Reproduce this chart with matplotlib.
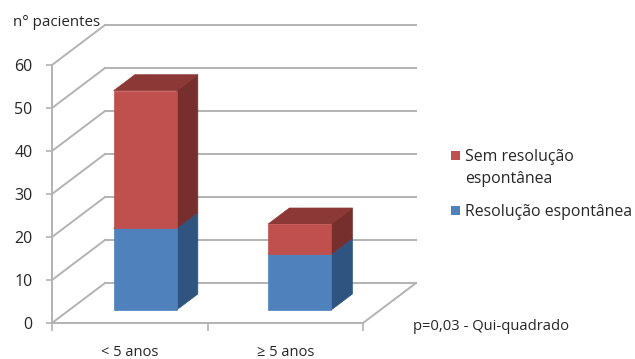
import matplotlib
matplotlib.use('Agg')
import matplotlib.pyplot as plt
from matplotlib.patches import Polygon, Rectangle

plt.rcParams['font.family'] = ['Open Sans', 'DejaVu Sans']

categories = ['< 5 anos', '\u2265 5 anos']
resolved = [19, 13]
unresolved = [32, 7]
y_ticks = [0, 10, 20, 30, 40, 50, 60]
series_names = ['Sem resolu\u00e7\u00e3o\nespont\u00e2nea', 'Resolu\u00e7\u00e3o espont\u00e2nea']

W, H = 635, 359
GRID = '#b3b3b3'
TEXT = '#262626'
BLUE = ('#4f81bd', '#2f5480', '#3a6190')
RED = ('#c0504d', '#772f2d', '#8c3836')

# oblique depth of the 3d box, in data units
DEPTH_X = 0.341
DEPTH_Y = 9.3
BAR_W = 0.405
BAR_NEAR = 0.325
BAR_FAR = 0.725
BAR_CENTERS = [0.488, 1.482]

fig = plt.figure(figsize=(W / 100, H / 100), dpi=100)
ax = fig.add_axes([52 / W, 1 - 323 / H, 311 / W, 258 / H])
ax.set_xlim(0, 2)
ax.set_ylim(0, 60)
ax.patch.set_alpha(0)


def shift(x, y, d):
    return x + DEPTH_X * d, y + DEPTH_Y * d


def poly(pts, color, z):
    ax.add_patch(Polygon(pts, closed=True, fc=color, ec=color, lw=0.5, zorder=z, clip_on=False))


def box(x0, x1, y0, y1, colors, z):
    front, side, top = colors
    poly([shift(x1, y0, BAR_NEAR), shift(x1, y0, BAR_FAR),
          shift(x1, y1, BAR_FAR), shift(x1, y1, BAR_NEAR)], side, z)
    poly([shift(x0, y1, BAR_NEAR), shift(x1, y1, BAR_NEAR),
          shift(x1, y1, BAR_FAR), shift(x0, y1, BAR_FAR)], top, z)
    poly([shift(x0, y0, BAR_NEAR), shift(x1, y0, BAR_NEAR),
          shift(x1, y1, BAR_NEAR), shift(x0, y1, BAR_NEAR)], front, z + 1)


# back wall lines and the diagonals on the side wall
for t in y_ticks:
    bx, by = shift(0, t, 1)
    ax.plot([0, bx], [t, by], color=GRID, lw=1.4, clip_on=False, zorder=1)
    ex, ey = shift(2, t, 1)
    ax.plot([bx, ex], [by, ey], color=GRID, lw=1.4, clip_on=False, zorder=1)
ex, ey = shift(2, 0, 1)
ax.plot([2, ex], [0, ey], color=GRID, lw=1.4, clip_on=False, zorder=1)

for i, c in enumerate(BAR_CENTERS):
    x0 = c - BAR_W / 2
    x1 = c + BAR_W / 2
    box(x0, x1, 0, resolved[i], BLUE, 3)
    box(x0, x1, resolved[i], resolved[i] + unresolved[i], RED, 5)

for s in ['top', 'right']:
    ax.spines[s].set_visible(False)
for s in ['left', 'bottom']:
    ax.spines[s].set_color(GRID)
    ax.spines[s].set_linewidth(1.4)

ax.set_yticks(y_ticks)
ax.set_xticks([0, 1, 2])
ax.set_xticklabels([])
ax.set_xticks([0.5, 1.5], minor=True)
ax.set_xticklabels(categories, minor=True, fontsize=10.5, color=TEXT)
ax.tick_params(axis='x', which='major', length=6, width=1.2, color=GRID)
ax.tick_params(axis='x', which='minor', length=0, pad=16)
ax.tick_params(axis='y', length=4, width=1.2, color=GRID, labelsize=11.5,
               labelcolor=TEXT, pad=10)

fig.text(13 / W, 1 - 26 / H, 'n\u00b0 pacientes', fontsize=10.9, color=TEXT)
fig.text(413 / W, 1 - 330 / H, 'p=0,03 - Qui-quadrado', fontsize=10.6, color=TEXT)

# legend entries, first line of each label level with its swatch
for name, col, top in zip(series_names, [RED[0], BLUE[0]], [149, 204]):
    fig.add_artist(Rectangle((451 / W, 1 - (top + 11) / H), 9 / W, 9 / H, fc=col, ec='none',
                             transform=fig.transFigure))
    fig.text(465 / W, 1 - top / H, name, fontsize=11.4, color=TEXT, va='top', linespacing=1.5)

fig.savefig('out.png', dpi=100)
